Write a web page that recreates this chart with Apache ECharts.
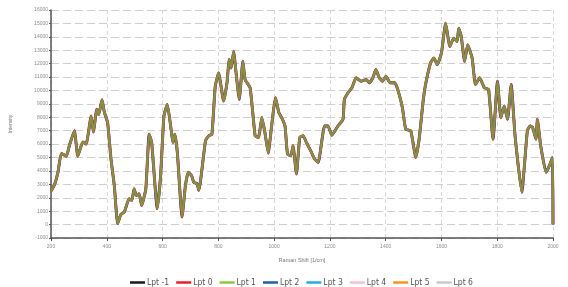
<!DOCTYPE html>
<html>
<head>
<meta charset="utf-8">
<script src="https://cdn.jsdelivr.net/npm/echarts@6/dist/echarts.min.js"></script>
<style>
  html, body { margin: 0; padding: 0; background: #fff; }
  #chart { width: 568px; height: 287px; }
</style>
</head>
<body>
<div id="chart"></div>
<script>
// 拉曼位移 (1/cm)
var ramanShift = [200, 213, 225, 237, 255, 266, 284, 296, 314, 326, 344, 352, 364, 371, 383, 391, 403, 415, 427, 439,
  450, 463, 480, 490, 498, 506, 516, 525, 540, 552, 561, 581, 593, 605, 617, 629, 637, 644, 653, 670,
  682, 692, 704, 712, 724, 730, 754, 766, 777, 789, 801, 819, 831, 839, 846, 855, 863, 875, 888, 896,
  914, 932, 944, 956, 967, 979, 991, 1005, 1017, 1027, 1039, 1048, 1060, 1068, 1080, 1092, 1104, 1116, 1134, 1145,
  1158, 1181, 1193, 1207, 1229, 1247, 1252, 1265, 1279, 1294, 1312, 1330, 1342, 1354, 1365, 1377, 1389, 1401, 1416, 1433,
  1445, 1460, 1472, 1490, 1508, 1520, 1535, 1543, 1561, 1573, 1585, 1600, 1615, 1630, 1644, 1656, 1662, 1671, 1683, 1694,
  1710, 1722, 1737, 1754, 1769, 1785, 1801, 1813, 1825, 1837, 1850, 1864, 1888, 1908, 1918, 1927, 1939, 1944, 1956, 1975,
  1987, 1998, 2000];
// 强度
var intensity = [2500, 3000, 3900, 5300, 5100, 5900, 7000, 5100, 6150, 6000, 8100, 6900, 8600, 8200, 9300, 8400, 7600, 4900, 2900, 70,
  740, 940, 1930, 1800, 2670, 2170, 2300, 1430, 2670, 6740, 6120, 1190, 3650, 8100, 8960, 7360, 6120, 6740, 5380, 570,
  2910, 3900, 3650, 3160, 3040, 2540, 6250, 6620, 6740, 10320, 11310, 9210, 10570, 12300, 11680, 12910, 11430, 9330, 12170, 10810,
  10200, 6620, 6490, 7980, 6870, 5330, 7360, 9460, 8350, 7980, 7360, 5260, 5130, 5870, 3780, 6500, 6620, 6120, 5380, 4890,
  4640, 7360, 7360, 6670, 7360, 7850, 9330, 9830, 10200, 10940, 10690, 10810, 10570, 10940, 11560, 10940, 10690, 11060, 10570, 10570,
  9950, 8720, 7110, 6990, 5010, 6370, 9330, 10440, 12050, 12420, 11930, 12790, 15020, 13280, 13900, 13650, 14640, 14020, 12170, 13410,
  12420, 10440, 10940, 10200, 10070, 6370, 10690, 7980, 8840, 7850, 10440, 6620, 2420, 6990, 7360, 7240, 6370, 7850, 5870, 3900,
  4390, 5010, 0];
var seriesNames = ['Lpt -1', 'Lpt 0', 'Lpt 1', 'Lpt 2', 'Lpt 3', 'Lpt 4', 'Lpt 5', 'Lpt 6'];
var seriesColors = ['#1a1a1a', '#ee1c25', '#8dc63f', '#1f5fad', '#29abe2', '#f2c4cf', '#f7941d', '#c8c8c8'];

var chart = echarts.init(document.getElementById('chart'));
var points = ramanShift.map(function (x, i) { return [x, intensity[i]]; });
// 绘制顺序和透明度，叠加后呈橄榄色
var drawZ = [5, 1, 3, 2, 6, 7, 4, 8];
var drawOpacity = [0.25, 1, 1, 1, 0.03, 0.03, 0.4, 0.03];
var drawWidth = [2, 3, 2, 2.6, 2, 2, 2, 2];
var labelStyle = {
  color: '#8a8a8a', fontSize: 5, fontFamily: 'Liberation Sans', hideOverlap: false,
  formatter: function (v) { return String(v); }
};

var option = {
  animation: false,
  color: seriesColors,
  grid: { left: 48, right: 15, top: 10, bottom: 49 },
  legend: {
    top: 273,
    left: 125,
    icon: 'rect',
    itemWidth: 15,
    itemHeight: 2.5,
    itemGap: 7,
    itemStyle: { opacity: 1 },
    textStyle: { fontSize: 8.5, color: '#555', fontFamily: 'DejaVu Sans Condensed, Liberation Sans, sans-serif', padding: [0, 0, 0, -3] },
    data: seriesNames
  },
  xAxis: {
    type: 'value',
    min: 200,
    max: 2000,
    interval: 200,
    name: 'Raman Shift [1/cm]',
    nameLocation: 'middle',
    nameGap: 19,
    nameTextStyle: { color: '#777', fontSize: 5.5, fontFamily: 'Liberation Sans' },
    axisLine: { onZero: false, lineStyle: { color: '#555', width: 1.5 } },
    axisTick: { show: true, length: 3, lineStyle: { color: '#555' } },
    axisLabel: Object.assign({ margin: 6 }, labelStyle),
    splitLine: { show: true, lineStyle: { type: [4, 3], color: '#d8d8d8' } }
  },
  yAxis: {
    type: 'value',
    min: -1000,
    max: 16000,
    interval: 1000,
    name: 'Intensity',
    nameLocation: 'middle',
    nameRotate: 90,
    nameGap: 38,
    nameTextStyle: { color: '#777', fontSize: 5, fontFamily: 'Liberation Sans' },
    axisLine: { show: true, onZero: false, lineStyle: { color: '#555', width: 1.5 } },
    axisTick: { show: true, length: 2, lineStyle: { color: '#555' } },
    axisLabel: Object.assign({ margin: 3 }, labelStyle),
    splitLine: { show: true, lineStyle: { type: [8, 4], color: '#cfcfcf' } }
  },
  series: seriesNames.map(function (name, i) {
    return {
      name: name,
      type: 'line',
      data: points,
      z: drawZ[i],
      showSymbol: false,
      smooth: 0.15,
      color: seriesColors[i],
      lineStyle: { width: drawWidth[i], opacity: drawOpacity[i] }
    };
  })
};
chart.setOption(option);
</script>
</body>
</html>
